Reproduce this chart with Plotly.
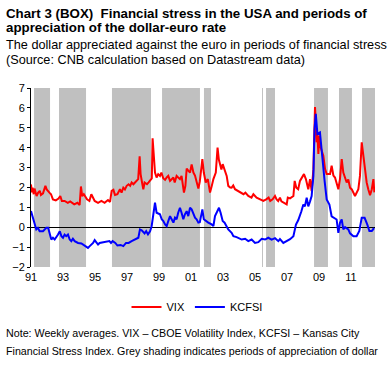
import plotly.graph_objects as go

# ---- data ----
vix_t = [1991.00,1991.05,1991.10,1991.17,1991.22,1991.30,1991.35,1991.45,1991.55,1991.62,1991.75,1991.90,1991.98,
         1992.15,1992.25,1992.37,1992.55,1992.72,1992.83,1992.93,1993.10,1993.30,1993.45,1993.70,1993.90,
         1994.04,1994.12,1994.20,1994.30,1994.50,1994.65,1994.77,1994.88,1994.98,1995.19,1995.40,1995.60,1995.81,
         1995.94,1996.04,1996.15,1996.25,1996.40,1996.56,1996.66,1996.77,1996.87,1996.98,1997.10,1997.20,1997.29,
         1997.40,1997.50,1997.60,1997.70,1997.79,1997.85,1997.96,1998.02,1998.10,1998.25,1998.35,1998.45,1998.55,
         1998.60,1998.67,1998.75,1998.85,1998.95,1999.06,1999.15,1999.27,1999.38,1999.48,1999.58,1999.69,1999.80,
         1999.90,1999.98,2000.10,2000.20,2000.31,2000.41,2000.47,2000.56,2000.65,2000.73,2000.83,2000.94,2001.04,
         2001.15,2001.25,2001.35,2001.46,2001.55,2001.71,2001.80,2001.92,2002.05,2002.19,2002.30,2002.40,2002.55,
         2002.66,2002.74,2002.81,2002.90,2002.98,2003.08,2003.23,2003.33,2003.45,2003.54,2003.64,2003.75,2003.95,
         2004.17,2004.28,2004.40,2004.58,2004.78,2004.90,2005.10,2005.30,2005.52,2005.70,2005.85,2005.95,2006.10,
         2006.25,2006.35,2006.45,2006.56,2006.65,2006.80,2006.98,2007.05,2007.19,2007.40,2007.48,2007.58,2007.70,
         2007.81,2007.92,2008.06,2008.18,2008.33,2008.44,2008.54,2008.65,2008.75,2008.80,2008.85,2008.90,2008.96,
         2009.02,2009.10,2009.27,2009.38,2009.48,2009.69,2009.79,2009.90,2010.00,2010.10,2010.21,2010.31,2010.42,
         2010.52,2010.63,2010.73,2010.83,2010.94,2011.05,2011.25,2011.46,2011.56,2011.67,2011.77,2011.88,2011.98,
         2012.08,2012.19,2012.30,2012.40,2012.46]
vix_v = [2.15,1.75,1.99,1.66,1.94,1.74,1.57,1.74,1.83,1.62,1.70,2.08,1.90,
         1.74,1.66,1.40,1.35,1.44,1.57,1.32,1.32,1.23,1.30,1.15,1.23,
         1.12,2.05,1.57,1.66,1.40,1.32,1.66,1.49,1.32,1.23,1.32,1.23,1.37,
         1.27,1.83,1.88,1.62,1.66,1.91,1.74,1.99,1.90,2.08,2.16,2.08,2.25,
         2.16,2.25,2.33,2.42,3.56,2.67,2.16,1.91,2.25,2.16,2.25,2.33,2.45,
         4.47,3.45,2.75,2.50,2.67,2.58,2.75,2.45,2.38,2.50,2.58,2.33,2.42,
         2.50,2.25,2.58,2.50,2.42,2.58,2.16,1.74,2.08,2.95,2.85,2.75,3.16,
         2.75,2.60,2.25,1.95,2.30,3.42,2.75,2.25,2.42,1.74,2.08,2.42,2.75,
         4.00,3.40,3.09,2.90,3.17,2.90,2.58,2.08,2.00,1.99,2.10,1.91,1.82,
         1.74,1.66,1.74,1.57,1.49,1.66,1.49,1.40,1.32,1.40,1.49,1.32,1.40,
         1.57,1.40,1.32,1.49,1.30,1.23,1.15,1.49,1.45,1.57,2.33,1.99,1.91,
         2.33,2.50,2.67,2.42,1.91,2.42,1.82,2.92,6.04,5.28,4.27,4.69,3.68,
         4.60,4.02,3.60,2.92,2.67,2.67,3.09,2.60,2.50,2.25,1.91,2.42,3.43,
         2.75,2.42,2.25,2.40,1.99,1.90,1.57,1.91,2.58,4.27,3.60,2.75,2.25,
         1.91,1.61,1.91,2.42,1.75]

kcfsi_t = [1991.00,1991.08,1991.23,1991.33,1991.43,1991.54,1991.75,1991.86,1991.96,1992.07,1992.17,1992.27,1992.37,
           1992.48,1992.69,1992.80,1992.90,1993.00,1993.10,1993.20,1993.31,1993.42,1993.52,1993.62,1993.73,1993.94,
           1994.15,1994.25,1994.46,1994.56,1994.67,1994.88,1994.98,1995.08,1995.19,1995.29,1995.50,1995.70,1995.90,
           1996.00,1996.10,1996.27,1996.40,1996.60,1996.77,1996.94,1997.10,1997.29,1997.50,1997.71,1997.81,1997.92,
           1998.10,1998.20,1998.31,1998.44,1998.54,1998.65,1998.75,1998.85,1998.96,1999.06,1999.17,1999.27,1999.38,
           1999.48,1999.58,1999.69,1999.79,1999.90,2000.00,2000.10,2000.20,2000.31,2000.41,2000.52,2000.62,2000.73,
           2000.83,2000.94,2001.04,2001.15,2001.25,2001.35,2001.46,2001.55,2001.71,2001.80,2001.92,2002.08,2002.29,
           2002.40,2002.50,2002.60,2002.75,2002.85,2002.98,2003.10,2003.33,2003.54,2003.65,2003.85,2004.17,2004.38,
           2004.58,2004.79,2005.00,2005.21,2005.42,2005.63,2005.83,2006.04,2006.25,2006.46,2006.56,2006.77,2006.98,
           2007.19,2007.40,2007.56,2007.70,2007.81,2007.90,2008.02,2008.12,2008.23,2008.33,2008.44,2008.54,2008.65,
           2008.72,2008.80,2008.85,2008.90,2009.06,2009.15,2009.25,2009.35,2009.48,2009.65,2009.79,2009.93,2010.10,
           2010.21,2010.31,2010.42,2010.52,2010.63,2010.83,2010.94,2011.15,2011.35,2011.52,2011.67,2011.85,2012.02,
           2012.15,2012.30,2012.40,2012.46]
kcfsi_v = [0.81,0.56,0.06,-0.11,-0.03,-0.20,-0.20,-0.11,-0.03,-0.03,-0.37,-0.62,-0.53,
           -0.62,-0.37,-0.20,-0.45,-0.53,-0.37,-0.45,-0.37,-0.62,-0.70,-0.58,-0.70,-0.79,
           -0.82,-0.87,-0.95,-1.04,-0.95,-0.79,-0.65,-0.79,-0.87,-0.79,-0.75,-0.70,-0.70,
           -0.79,-0.70,-0.79,-0.92,-0.89,-0.95,-0.79,-0.79,-0.70,-0.62,-0.53,-0.11,-0.15,
           -0.31,-0.20,-0.36,-0.20,0.05,0.73,1.23,0.73,0.70,0.65,0.40,0.31,0.14,
           0.06,0.31,0.56,0.40,0.23,0.48,0.40,0.73,0.98,0.73,0.40,0.65,0.81,
           0.56,0.98,0.90,0.65,0.48,0.40,0.23,0.25,0.90,0.40,0.31,0.23,0.14,
           0.06,0.56,0.75,0.98,0.73,0.31,0.23,-0.11,-0.28,-0.45,-0.50,-0.62,-0.58,
           -0.70,-0.62,-0.79,-0.75,-0.58,-0.62,-0.53,-0.62,-0.55,-0.70,-0.60,-0.79,-0.70,
           -0.60,-0.45,0.13,0.35,0.55,0.80,1.14,1.05,1.48,1.05,1.30,1.57,2.58,
           4.94,5.70,5.10,4.69,4.77,3.93,3.26,2.33,1.40,1.14,0.55,0.47,0.39,
           -0.28,0.22,0.39,-0.11,0.00,-0.11,-0.31,-0.45,-0.45,-0.19,0.47,0.47,0.13,
           -0.19,-0.19,-0.08,-0.10]

# periods of dollar appreciation (grey shading)
shade_start = [1991.19, 1992.75, 1996.06, 1999.19, 2001.81, 2005.44, 2005.69, 2008.69, 2010.25, 2011.69]
shade_end   = [1992.19, 1994.44, 1998.50, 2001.56, 2002.25, 2005.50, 2006.25, 2009.56, 2011.06, 2012.50]

tick_years = [1991, 1993, 1995, 1997, 1999, 2001, 2003, 2005, 2007, 2009, 2011]
tick_text = ["91", "93", "95", "97", "99", "01", "03", "05", "07", "09", "11"]

FONT = "Liberation Sans, Arial, sans-serif"

fig = go.Figure()
fig.add_trace(go.Scatter(x=vix_t, y=vix_v, mode="lines", name="VIX",
                         line=dict(color="#FF0000", width=2)))
fig.add_trace(go.Scatter(x=kcfsi_t, y=kcfsi_v, mode="lines", name="KCFSI",
                         line=dict(color="#0000FF", width=2)))

shapes = []
for s, e in zip(shade_start, shade_end):
    shapes.append(dict(type="rect", xref="x", yref="y", x0=s, x1=e, y0=-2, y1=7,
                       fillcolor="#C0C0C0", line=dict(width=0), layer="below"))

L, R, T, B = 31, 15, 88, 98
W, H = 390, 365
pw, ph = W - L - R, H - T - B

def px(x):
    return (x - L) / pw

def py(y):
    return (H - B - y) / ph

annotations = [
    dict(text="<b>Chart 3 (BOX)\u00a0 Financial stress in the USA and periods of</b>", x=px(4), y=py(13), size=13.3),
    dict(text="<b>appreciation of the dollar-euro rate</b>", x=px(4), y=py(28), size=13.3),
    dict(text="The dollar appreciated against the euro in periods of financial stress", x=px(4), y=py(45), size=12.7),
    dict(text="(Source: CNB calculation based on Datastream data)", x=px(4), y=py(60), size=12.7),
    dict(text="Note: Weekly averages. VIX \u2013 CBOE Volatility Index, KCFSI \u2013 Kansas City", x=px(4), y=py(333), size=10.7),
    dict(text="Financial Stress Index. Grey shading indicates periods of appreciation of dollar", x=px(4), y=py(351), size=10.7),
]
ann = []
for a in annotations:
    ann.append(dict(text=a["text"], xref="paper", yref="paper", x=a["x"], y=a["y"],
                    xanchor="left", yanchor="middle", showarrow=False,
                    font=dict(family=FONT, size=a["size"], color="black")))

fig.update_layout(
    width=W, height=H,
    margin=dict(l=L, r=R, t=T, b=B, pad=0, autoexpand=False),
    paper_bgcolor="white", plot_bgcolor="white",
    font=dict(family=FONT, size=11, color="black"),
    shapes=shapes, annotations=ann,
    showlegend=True,
    legend=dict(orientation="h", x=px(197), y=py(307), xanchor="center", yanchor="middle",
                font=dict(family=FONT, size=11), itemwidth=30, tracegroupgap=0,
                bgcolor="rgba(0,0,0,0)"),
    xaxis=dict(range=[1991, 2012.5], tickmode="array", tickvals=tick_years, ticktext=tick_text,
               showgrid=False, zeroline=False, showline=False, ticks="", tickfont=dict(size=11),
               ticklabelstandoff=2),
    yaxis=dict(range=[-2, 7], dtick=1, tick0=0, showgrid=False, zeroline=True, zerolinecolor="black",
               zerolinewidth=1, showline=True, linecolor="black", linewidth=1, ticks="outside",
               ticklen=3, tickcolor="black", tickfont=dict(size=11)),
)

fig.write_html("out.html", config={"displayModeBar": False},
               post_script="document.body.style.margin='0';document.body.style.overflow='hidden';")
